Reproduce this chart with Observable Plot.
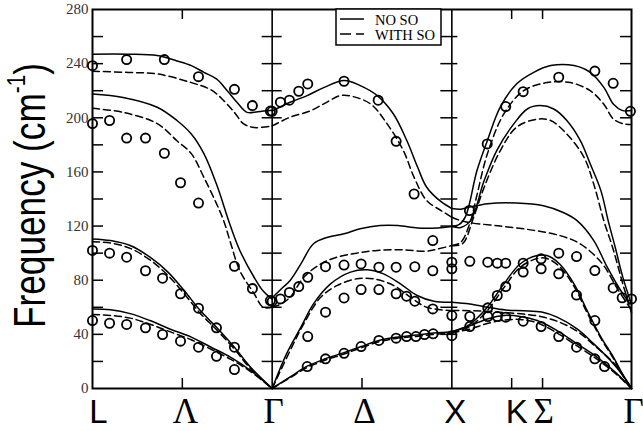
<!DOCTYPE html>
<html>
<head>
<meta charset="utf-8">
<script src="https://cdn.jsdelivr.net/npm/d3@7"></script>
<script src="https://cdn.jsdelivr.net/npm/@observablehq/plot@0.6"></script>
<style>
  html, body { margin: 0; padding: 0; background: #fff; }
  #chart svg { display: block; }
</style>
</head>
<body>
<div id="chart"></div>
<script>
// ---- axis text ----
const pathLabels = ["L", "Λ", "Γ", "Δ", "X", "K", "Σ", "Γ"];
const pathPos = [0, 0.5, 1, 1.5, 2, 2.333, 2.505, 3];
const yLabels = [0, 40, 80, 120, 160, 200, 240, 280];
const yMinor = [20, 40, 60, 80, 100, 120, 140, 160, 180, 200, 220, 240, 260];
const innerTicks = [0.5, 1.5, 2.333, 2.505];
const panelLines = [1, 2];
const legendNames = ["NO SO", "WITH SO"];
const yTitle = "Frequency (cm";
const yTitleSup = "-1";

// ---- calculated branches, NO SO (solid) : [q, frequency] ----
const noSO_LG_1 = [[0,247],[0.2,247],[0.36,246],[0.47,242],[0.55,238.5],[0.62,233.6],[0.69,228.7],[0.75,220],[0.81,210.5],[0.86,204],[0.92,204.5],[1,205.5]];
const noSO_LG_2 = [[0,217.6],[0.17,215],[0.36,207.8],[0.47,198],[0.55,188],[0.62,173.5],[0.69,151],[0.768,120],[0.82,102],[0.9,82],[0.95,72],[1,66]];
const noSO_LG_3 = [[0,110.5],[0.1,109.3],[0.21,105.6],[0.32,97],[0.42,86],[0.51,72.4],[0.6,57.6],[0.69,45.3],[0.79,30.5],[0.88,15.7],[1,0]];
const noSO_LG_4 = [[0,58.8],[0.1,58.2],[0.21,55.3],[0.32,50.2],[0.43,44],[0.55,38],[0.66,30.5],[0.77,23],[0.88,13.3],[1,0]];
const noSO_GX_1 = [[1,205],[1.1,211.5],[1.195,216.4],[1.29,222.5],[1.4,227.5],[1.49,223.8],[1.585,216.4],[1.675,202.8],[1.75,183],[1.81,163.4],[1.86,148.7],[1.94,138],[2,133]];
const noSO_GX_2 = [[1,67],[1.05,73.5],[1.1,79.8],[1.16,92],[1.23,106.9],[1.31,111.8],[1.4,114.3],[1.49,118],[1.6,120.4],[1.7,120.4],[1.81,118.6],[1.92,118.6],[2,119.6]];
const noSO_GX_3 = [[1,0],[1.08,25.6],[1.16,45.3],[1.23,62.5],[1.325,77.3],[1.436,86],[1.53,87.7],[1.62,84.7],[1.714,77.3],[1.807,68.7],[1.9,64.5],[2,63.8]];
const noSO_GX_4 = [[1,0],[1.1,8.5],[1.195,16.5],[1.297,22],[1.4,26.5],[1.495,31],[1.594,35.5],[1.69,37.8],[1.8,39.5],[1.9,41],[2,42]];
const noSO_XG_1 = [[2,119.6],[2.04,121],[2.076,127],[2.14,161],[2.2,184],[2.27,208],[2.36,225],[2.456,233.6],[2.55,238.6],[2.68,238.6],[2.77,233.6],[2.846,222.5],[2.9,210],[2.95,205.3],[3,205.3]];
const noSO_XG_2 = [[2,119.6],[2.05,119],[2.104,124],[2.18,153.6],[2.25,175.8],[2.345,195.5],[2.42,206.5],[2.49,209],[2.567,206.5],[2.64,198],[2.716,183],[2.77,166],[2.83,146],[2.87,124],[2.91,104],[2.95,83],[3,62]];
const noSO_XG_3 = [[2,133],[2.05,132.5],[2.1,134],[2.2,136.5],[2.36,137],[2.51,135],[2.62,130],[2.697,124],[2.79,109.3],[2.865,89.6],[2.94,72.4],[2.983,65],[3,65]];
const noSO_XG_4 = [[2,42],[2.05,44],[2.104,47.8],[2.197,60],[2.29,77.3],[2.38,92],[2.475,98.2],[2.53,98.2],[2.6,92],[2.68,77.3],[2.753,57.6],[2.83,38],[2.9,23],[2.95,10.8],[3,0]];
const noSO_XG_5 = [[2,63.8],[2.1,62.5],[2.2,60],[2.3,58],[2.4,57.5],[2.5,56.5],[2.586,52.7],[2.697,44],[2.79,33],[2.883,20.7],[2.95,10],[3,0]];
const noSO_XG_6 = [[2,42],[2.104,46.5],[2.197,51.4],[2.29,54],[2.38,53.2],[2.475,50.2],[2.586,42.8],[2.697,33],[2.81,23],[2.92,10.8],[3,0]];

// ---- calculated branches, WITH SO (dashed) ----
const withSO_LG_1 = [[0,234.4],[0.2,233.5],[0.36,232.4],[0.55,226],[0.66,220.6],[0.73,212.7],[0.79,204],[0.84,195.7],[0.9,192.8],[1,194]];
const withSO_LG_2 = [[0,207],[0.17,204],[0.36,195.7],[0.47,183],[0.55,173.5],[0.62,156],[0.69,136.6],[0.73,124],[0.77,107],[0.82,87],[0.9,70],[0.95,60],[1,60]];
const withSO_LG_3 = [[0,108.5],[0.1,107.5],[0.21,103.5],[0.32,95],[0.42,83.5],[0.51,70],[0.6,55.5],[0.69,43.5],[0.79,29],[0.88,14.5],[1,0]];
const withSO_LG_4 = [[0,54.6],[0.1,54],[0.21,52],[0.32,47.5],[0.43,42],[0.55,36],[0.66,29],[0.77,21.5],[0.88,12.5],[1,0]];
const withSO_GX_1 = [[1,194],[1.1,200.4],[1.21,205],[1.29,210.5],[1.38,216.4],[1.45,215.7],[1.55,210],[1.64,195.5],[1.73,175.8],[1.79,156],[1.86,138.8],[1.94,131.5],[2,126.5]];
const withSO_GX_2 = [[1,60],[1.05,62.5],[1.1,67.4],[1.176,82.2],[1.27,92],[1.36,97],[1.47,100],[1.585,102],[1.73,102.4],[1.86,101.4],[1.92,103],[2,105.6]];
const withSO_GX_3 = [[1,0],[1.1,28],[1.176,47.8],[1.27,67.4],[1.36,76],[1.47,81],[1.566,81],[1.677,76],[1.77,67.4],[1.86,60],[2,57.6]];
const withSO_GX_4 = [[1,0],[1.1,8],[1.195,15.5],[1.297,21],[1.4,25.5],[1.495,30],[1.594,34.5],[1.69,37],[1.8,38.5],[1.9,40],[2,41]];
const withSO_XG_1 = [[2,105.6],[2.05,108],[2.1,122],[2.14,143],[2.197,173],[2.29,203],[2.4,220],[2.53,226],[2.66,226],[2.77,220],[2.846,210],[2.9,199],[2.957,195.5],[3,195]];
const withSO_XG_2 = [[2,105.6],[2.06,107],[2.12,126],[2.18,148.7],[2.27,175.8],[2.36,193],[2.475,199],[2.55,198],[2.64,188],[2.735,171],[2.79,151],[2.846,124],[2.9,102],[2.95,78],[3,56]];
const withSO_XG_3 = [[2,126.5],[2.05,124],[2.1,122.5],[2.27,120],[2.45,117],[2.6,113],[2.7,108],[2.79,99],[2.85,90],[2.92,74],[3,58]];
const withSO_XG_4 = [[2,41],[2.05,43],[2.104,46],[2.197,57.5],[2.29,74.5],[2.38,89.5],[2.475,96],[2.53,96],[2.6,90],[2.68,75.5],[2.753,56],[2.83,37],[2.9,22],[2.95,10],[3,0]];
const withSO_XG_5 = [[2,57.6],[2.1,57.5],[2.2,57],[2.3,56],[2.4,55],[2.5,53],[2.6,49],[2.7,42],[2.8,31],[2.9,19],[2.95,10],[3,0]];
const withSO_XG_6 = [[2,41],[2.104,44],[2.197,48],[2.29,50.5],[2.38,51],[2.475,48.5],[2.586,41],[2.697,31.5],[2.81,21.5],[2.92,10],[3,0]];

// ---- experimental points (circles) ----
const expt_LG = [[0,238.5],[0.19,243],[0.4,243],[0.59,230.4],[0.79,221],[0.89,209],[0.99,205],
  [0,195.7],[0.095,198],[0.19,185],[0.295,185],[0.4,173.8],[0.49,152],[0.59,137],[0.79,90.3],[0.89,73.8],[0.99,65],
  [0,102],[0.095,100],[0.19,97],[0.295,87],[0.39,81.5],[0.49,70],[0.59,59.3],[0.69,44.8],[0.79,30.5],
  [0,50.2],[0.095,48.2],[0.19,47.3],[0.295,44.8],[0.39,39.9],[0.49,35],[0.59,30.5],[0.69,23.8],[0.79,14]];
const expt_GX = [[1,204.8],[1.046,211.5],[1.096,213],[1.148,219.6],[1.198,225],[1.4,227],[1.59,213],[1.69,182.6],[1.79,143.7],[1.894,109.3],
  [1,64.4],[1.046,66.2],[1.096,71],[1.148,75.3],[1.198,82.2],[1.297,90],[1.4,91.2],[1.495,92],[1.594,89.6],[1.69,89.6],[1.794,90],[1.894,87],
  [1.198,38.4],[1.297,56.4],[1.4,66.9],[1.495,73.1],[1.594,73.1],[1.69,70],[1.748,68.2],[1.794,64.5],[1.894,58.8],
  [1.195,16.2],[1.297,21.9],[1.4,26],[1.495,31],[1.594,35.5],[1.69,37.2],[1.748,38.4],[1.8,38.4],[1.848,39.9],[1.896,40.4]];
const expt_XG = [[2,93.3],[2,88.4],[2,53.9],[2,39],
  [2.098,131.5],[2.197,180.7],[2.3,208.3],[2.397,219.3],[2.595,230],[2.796,234.5],[2.898,225.5],[2.994,204.8],
  [2.1,94],[2.2,93.3],[2.253,92.6],[2.3,92.6],[2.397,92.6],[2.497,95.8],[2.595,100],[2.694,97.5],[2.796,87.1],[2.898,74.3],[2.948,67],[3,66.2],
  [2.1,45.8],[2.2,59.6],[2.253,68.7],[2.3,75.3],[2.397,86],[2.497,88.4],[2.595,84.7],[2.694,69],[2.796,50.2],
  [2.1,53.2],[2.2,53.2],[2.253,53.2],[2.3,52.7],[2.397,49.7],[2.497,45.8],[2.595,38.4],[2.694,30.5],[2.796,21.9],[2.85,16.2]];

// ---- build tables ----
const noSOBranches = {noSO_LG_1, noSO_LG_2, noSO_LG_3, noSO_LG_4, noSO_GX_1, noSO_GX_2, noSO_GX_3, noSO_GX_4,
  noSO_XG_1, noSO_XG_2, noSO_XG_3, noSO_XG_4, noSO_XG_5, noSO_XG_6};
const withSOBranches = {withSO_LG_1, withSO_LG_2, withSO_LG_3, withSO_LG_4, withSO_GX_1, withSO_GX_2, withSO_GX_3, withSO_GX_4,
  withSO_XG_1, withSO_XG_2, withSO_XG_3, withSO_XG_4, withSO_XG_5, withSO_XG_6};
const toRows = (obj) => Object.entries(obj).flatMap(([name, pts]) => pts.map(([q, f]) => ({branch: name, q, f})));
const noSORows = toRows(noSOBranches);
const withSORows = toRows(withSOBranches);
const exptRows = [...expt_LG, ...expt_GX, ...expt_XG].map(([q, f]) => ({q, f}));

// ---- layout ----
const W = 643, H = 431, mL = 92, mR = 12, mT = 9, mB = 43;
const xDomain = [0, 3], yDomain = [0, 280];
const xs = Plot.scale({x: {domain: xDomain, range: [mL, W - mR]}});
const frameH = H - mT - mB;

const sansFont = "'Liberation Sans', Arial, sans-serif";
const serifFont = "'Liberation Serif', 'Times New Roman', serif";
const labelNudge = [6, 3, 1.5, 2.5, 3.5, 5, 1, 2];
const isGreek = (t) => /[\u0370-\u03FF]/.test(t);

const labelMarks = pathLabels.map((t, i) => Plot.text([t], {
  x: [pathPos[i]], text: (d) => d, frameAnchor: "bottom", lineAnchor: "bottom",
  dy: 34, dx: labelNudge[i], fontSize: isGreek(t) ? 35 : 33,
  fontFamily: isGreek(t) ? serifFont : sansFont, fill: "black"
}));

// inward ticks: horizontal ticks spanning the frame, trimmed with insets
const tickColor = "black";
const hTick = (xCenter, left, right) => {
  const px = xs.apply(xCenter);
  return Plot.tickY(yMinor, {y: (d) => d, stroke: tickColor, strokeWidth: 1.5,
    insetLeft: Math.max(0, px - left - mL), insetRight: Math.max(0, (W - mR) - px - right)});
};
const topTicks = Plot.tickX(innerTicks, {x: (d) => d, stroke: tickColor, strokeWidth: 1.5, insetBottom: frameH - 10});
const bottomTicks = Plot.tickX(innerTicks, {x: (d) => d, stroke: tickColor, strokeWidth: 1.5, insetTop: frameH - 10});

const chart = Plot.plot({
  width: W,
  height: H,
  marginLeft: mL,
  marginRight: mR,
  marginTop: mT,
  marginBottom: mB,
  x: {domain: xDomain, axis: null},
  y: {domain: yDomain},
  marks: [
    Plot.axisY(yLabels, {tickSize: 0, tickPadding: 4, fontSize: 15, fontFamily: serifFont, fill: "#333", label: null}),
    Plot.ruleX(panelLines, {stroke: "black", strokeWidth: 1.6}),
    Plot.line(noSORows, {x: "q", y: "f", z: "branch", curve: "catmull-rom", stroke: "black", strokeWidth: 1.5}),
    Plot.line(withSORows, {x: "q", y: "f", z: "branch", curve: "catmull-rom", stroke: "black", strokeWidth: 1.5, strokeDasharray: "7,4"}),
    Plot.dot(exptRows, {x: "q", y: "f", r: 4.6, stroke: "black", strokeWidth: 1.8, fill: "none"}),
    Plot.frame({stroke: "black", strokeWidth: 2}),
    hTick(0, 0, 11),
    hTick(3, 11, 0),
    hTick(1, 10, 10),
    hTick(2, 11, 6),
    topTicks,
    bottomTicks,
    ...labelMarks
  ]
});

document.getElementById("chart").appendChild(chart);

// ---- legend and y title (text) ----
const svg = d3.select(chart);
const lg = svg.append("g").attr("text-anchor", "start");
lg.append("rect").attr("x", 336).attr("y", 9).attr("width", 105).attr("height", 36)
  .attr("fill", "white").attr("stroke", "black").attr("stroke-width", 1.5);
lg.append("line").attr("x1", 340).attr("x2", 364).attr("y1", 19).attr("y2", 19)
  .attr("stroke", "black").attr("stroke-width", 1.5);
lg.append("line").attr("x1", 340).attr("x2", 364).attr("y1", 34).attr("y2", 34)
  .attr("stroke", "black").attr("stroke-width", 1.5).attr("stroke-dasharray", "11,5");
legendNames.forEach((t, i) => {
  lg.append("text").attr("x", 375).attr("y", 25 + i * 15).attr("text-anchor", "start").text(t)
    .style("font-family", serifFont).style("font-size", "14.5px").attr("fill", "black");
});

const yt = svg.append("text")
  .attr("transform", "translate(45,195.5) rotate(-90) scale(0.8,1)")
  .attr("text-anchor", "middle")
  .style("font-family", sansFont).style("font-size", "44px").attr("fill", "black");
yt.append("tspan").text(yTitle);
yt.append("tspan").attr("dy", -20).style("font-size", "26px").text(yTitleSup);
yt.append("tspan").attr("dy", 20).text(")");
</script>
</body>
</html>
